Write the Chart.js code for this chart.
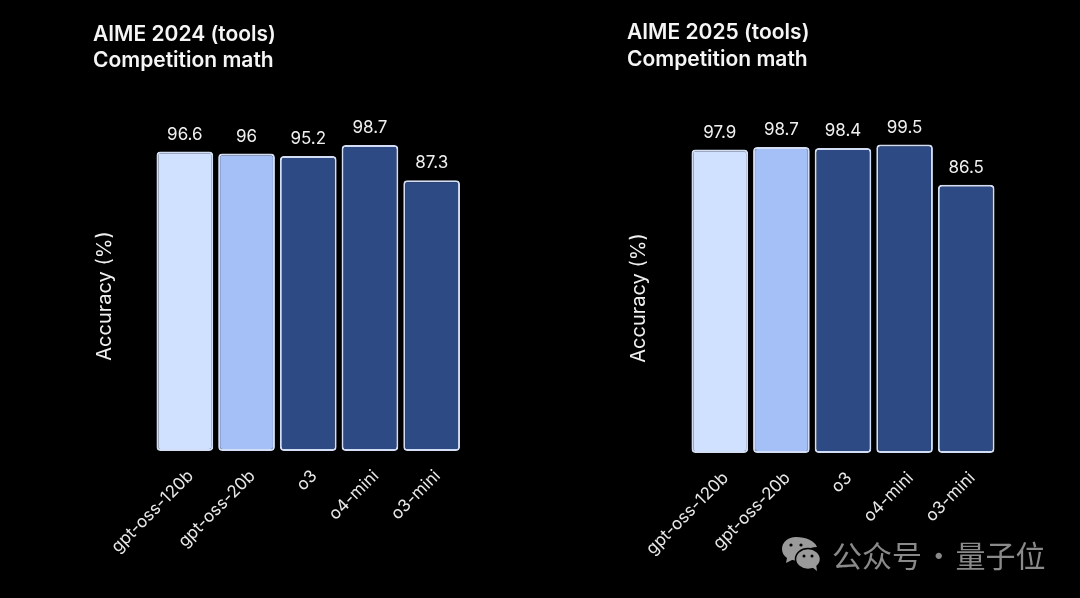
<!DOCTYPE html>
<html>
  <head>
    <meta charset="utf-8">
    <title>AIME tools accuracy</title>
    <script src="https://cdn.jsdelivr.net/npm/chart.js@4/dist/chart.umd.min.js"></script>
    <style>
      html, body { margin: 0; background: #000; }
      body { width: 1080px; height: 598px; position: relative; overflow: hidden; }
      .box { position: absolute; top: 0; height: 598px; }
      #mark { position: absolute; left: 781px; top: 535px; height: 38px; display: flex; align-items: center; gap: 11px;
        color: #8a8a8a; font: 30px "Noto Sans CJK SC"; word-spacing: -5px; white-space: nowrap; }
    </style>
  </head>
  <body>
    <div class="box" style="left:0;width:535px"><canvas id="chart2024"></canvas></div>
    <div class="box" style="left:535px;width:545px"><canvas id="chart2025"></canvas></div>

    <!-- watermark -->
    <div id="mark">
      <svg width="40" height="36" viewBox="0 0 40 36">
        <path d="M15 1C7 1 1 6 1 13c0 4 2 7 5 9l-1 5 6-3c1 0 2 .5 4 .5l6 0C20 16 27 11 36 11 34 5 25 1 15 1z" fill="#9a9a9a"/>
        <ellipse cx="27" cy="23" rx="12.5" ry="10.5" fill="#9a9a9a" stroke="#000" stroke-width="1.5"/>
        <path d="M31 31l5 4-1-7z" fill="#9a9a9a"/>
        <circle cx="10" cy="9" r="1.6" fill="#000"/><circle cx="20" cy="9" r="1.6" fill="#000"/>
        <circle cx="23" cy="20" r="1.5" fill="#000"/><circle cx="31" cy="20" r="1.5" fill="#000"/>
      </svg>
      <span>公众号 · 量子位</span>
    </div>

    <script>
      const categories = ["gpt-oss-120b", "gpt-oss-20b", "o3", "o4-mini", "o3-mini"];
      const values2024 = [96.6, 96, 95.2, 98.7, 87.3];
      const values2025 = [97.9, 98.7, 98.4, 99.5, 86.5];
      const title2024 = ["AIME 2024 (tools)", "Competition math"];
      const title2025 = ["AIME 2025 (tools)", "Competition math"];
      const barColors = ["#d0e0ff", "#a5bff7", "#2d4a85", "#2d4a85", "#2d4a85"];

      const FONT = "Inter, 'Liberation Sans', sans-serif";

      // value above each bar
      const barLabels = {
        id: "barLabels",
        afterDatasetsDraw(chart) {
          const ctx = chart.ctx;
          ctx.save();
          ctx.fillStyle = "#f0f0f0";
          ctx.font = "17px " + FONT;
          ctx.textAlign = "center";
          ctx.textBaseline = "middle";
          chart.getDatasetMeta(0).data.forEach((bar, i) => {
            ctx.fillText(chart.data.datasets[0].data[i], bar.x, bar.y - 17);
          });
          ctx.restore();
        }
      };

      function makeChart(id, title, values, pos) {
        return new Chart(document.getElementById(id), {
          type: "bar",
          plugins: [barLabels],
          data: {
            labels: categories,
            datasets: [{
              data: values,
              backgroundColor: barColors,
              borderColor: "#d3ddf3",
              borderWidth: 2,
              borderRadius: 4,
              borderSkipped: false,
              barPercentage: 0.92,
              categoryPercentage: 1
            }]
          },
          options: {
            responsive: false,
            animation: false,
            layout: { padding: { left: pos.left, right: pos.right, top: pos.top, bottom: 0 } },
            plugins: {
              legend: { display: false },
              tooltip: { enabled: false },
              title: {
                display: true,
                text: title,
                align: "start",
                color: "#f5f5f5",
                font: { family: FONT, size: 21, weight: "600", lineHeight: 1.25 },
                padding: { top: 0, bottom: pos.titleGap }
              }
            },
            scales: {
              x: {
                grid: { display: false },
                border: { display: false },
                afterFit(s) { s.height = 598 - pos.bottom; },
                ticks: {
                  color: "#e8e8e8",
                  font: { family: FONT, size: 17 },
                  minRotation: 45,
                  maxRotation: 45,
                  padding: 7,
                  labelOffset: 6,
                  autoSkip: false
                }
              },
              y: {
                min: 0,
                max: 100,
                grid: { display: false },
                border: { display: false },
                afterFit(s) { s.width = pos.axisWidth; },
                ticks: { display: false },
                title: {
                  display: true,
                  text: "Accuracy (%)",
                  color: "#f0f0f0",
                  font: { family: FONT, size: 20 },
                  padding: 0
                }
              }
            }
          }
        });
      }

      function size(id, w) {
        const c = document.getElementById(id);
        c.width = w; c.height = 598;
        c.style.width = w + "px"; c.style.height = "598px";
      }
      size("chart2024", 535);
      size("chart2025", 545);

      makeChart("chart2024", title2024, values2024, { left: 93, right: 72.5, top: 21.5, titleGap: 67, axisWidth: 61, bottom: 451 });
      makeChart("chart2025", title2025, values2025, { left: 92, right: 83, top: 20, titleGap: 70.5, axisWidth: 62, bottom: 453 });
    </script>
  </body>
</html>
